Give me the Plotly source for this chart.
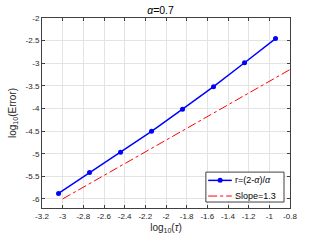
import plotly.graph_objects as go

log_tau = [-3.04, -2.74, -2.44, -2.14, -1.84, -1.54, -1.24, -0.94]
log_err = [-5.877, -5.415, -4.967, -4.506, -4.015, -3.517, -2.989, -2.455]
ref_x = [-3.0, -0.8]
ref_y = [-6.0, -3.14]

x_ticks = [-3.2, -3, -2.8, -2.6, -2.4, -2.2, -2, -1.8, -1.6, -1.4, -1.2, -1, -0.8]
y_ticks = [-6, -5.5, -5, -4.5, -4, -3.5, -3, -2.5, -2]
legend_names = ["r=(2-<i>α</i>)/<i>α</i>", "Slope=1.3"]

FONT = "Liberation Sans"
W, H = 321, 241
ML, MR, MT, MB = 41.5, 31, 17.5, 33
PW, PH = W - ML - MR, H - MT - MB


def px(xpix):
    return (xpix - ML) / PW


def py(ypix):
    return (H - MB - ypix) / PH


fig = go.Figure()
fig.add_trace(go.Scatter(x=log_tau, y=log_err, mode="lines+markers",
                         name=legend_names[0], showlegend=False,
                         line=dict(color="#0000ff", width=1.5),
                         marker=dict(color="#0000ff", size=5, symbol="circle")))
fig.add_trace(go.Scatter(x=ref_x, y=ref_y, mode="lines", name=legend_names[1],
                         showlegend=False,
                         line=dict(color="#ff0000", width=1, dash="dashdot")))

axis_common = dict(showgrid=True, gridcolor="#e3e3e3", gridwidth=1,
                   showline=True, linecolor="#404040", linewidth=1, mirror="allticks",
                   ticks="inside", ticklen=3, tickcolor="#404040",
                   tickfont=dict(family=FONT, size=8, color="#262626"),
                   zeroline=False)

# manual legend (compact, MATLAB-like)
shapes = [
    dict(type="rect", xref="paper", yref="paper",
         x0=px(205.7), x1=px(284), y0=py(202), y1=py(172),
         fillcolor="white", line=dict(color="#404040", width=1), layer="above"),
    dict(type="line", xref="paper", yref="paper",
         x0=px(208), x1=px(231.7), y0=py(180.3), y1=py(180.3),
         line=dict(color="#0000ff", width=1.5), layer="above"),
    dict(type="circle", xref="paper", yref="paper", xsizemode="pixel", ysizemode="pixel",
         xanchor=px(220), yanchor=py(180.3), x0=-2.5, x1=2.5, y0=-2.5, y1=2.5,
         fillcolor="#0000ff", line=dict(color="#0000ff", width=0), layer="above"),
    dict(type="line", xref="paper", yref="paper",
         x0=px(208), x1=px(231.7), y0=py(196), y1=py(196),
         line=dict(color="#ff0000", width=1, dash="dashdot"), layer="above"),
]
annotations = [
    dict(text=legend_names[0], xref="paper", yref="paper", x=px(232.5), y=py(180.3),
         xanchor="left", yanchor="middle", showarrow=False,
         font=dict(family=FONT, size=9, color="#000000")),
    dict(text=legend_names[1], xref="paper", yref="paper", x=px(232.5), y=py(196),
         xanchor="left", yanchor="middle", showarrow=False,
         font=dict(family=FONT, size=9, color="#000000")),
]

fig.update_layout(
    width=W, height=H, autosize=False,
    margin=dict(l=ML, r=MR, t=MT, b=MB, pad=0),
    paper_bgcolor="white", plot_bgcolor="white",
    title=dict(text="<i>α</i>=0.7", x=0.5, xanchor="center", y=1 - 10 / H, yanchor="middle",
               font=dict(family=FONT, size=10.5, color="#000000")),
    xaxis=dict(range=[-3.2, -0.8], tickvals=x_ticks, ticktext=[str(v) for v in x_ticks],
               automargin=False,
               title=dict(text="log<sub>10</sub>(<i>τ</i>)", standoff=4,
                          font=dict(family=FONT, size=10, color="#262626")),
               **axis_common),
    yaxis=dict(range=[-6.2, -2], tickvals=y_ticks, ticktext=[str(v) for v in y_ticks],
               automargin=False,
               title=dict(text="log<sub>10</sub>(Error)", standoff=7,
                          font=dict(family=FONT, size=10, color="#262626")),
               **axis_common),
    shapes=shapes,
    annotations=annotations,
    showlegend=False,
)

fig.write_html("out.html", config={"displayModeBar": False},
               post_script="document.body.style.margin='0';")
